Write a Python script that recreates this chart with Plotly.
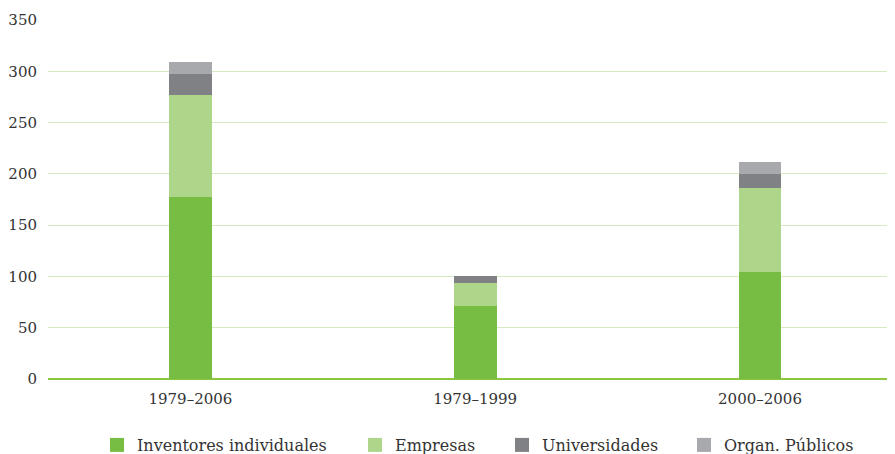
import plotly.graph_objects as go

categories = ["1979–2006", "1979–1999", "2000–2006"]
inventores = [177, 71, 104]
empresas = [100, 23, 82]
universidades = [20, 6, 14]
organ_publicos = [12, 0, 12]
y_ticks = [0, 50, 100, 150, 200, 250, 300, 350]

series_names = ["Inventores individuales", "Empresas", "Universidades", "Organ. Públicos"]
series_values = [inventores, empresas, universidades, organ_publicos]
series_colors = ["#77bc43", "#aed68b", "#808184", "#a7a9ac"]
legend_ids = ["legend", "legend2", "legend3", "legend4"]
legend_px = [110, 368, 515, 697]  # left pixel of each legend swatch (page coords)

OFF = 8  # page body margin
W, H = 895 - OFF, 454 - OFF
font = dict(family="DejaVu Serif, serif", size=15, color="#333333")
legend_font = dict(family="DejaVu Serif, serif", size=16, color="#333333")

fig = go.Figure()
for name, vals, color, lid in zip(series_names, series_values, series_colors, legend_ids):
    fig.add_trace(go.Bar(x=categories, y=vals, name=name, marker_color=color,
                         marker_line_width=0, width=0.15, showlegend=False))
    fig.add_trace(go.Scatter(x=[None], y=[None], mode="markers", name=name,
                             marker=dict(symbol="square", size=14, color=color),
                             legend=lid, showlegend=True, hoverinfo="skip"))

layout_legends = {}
for lid, px in zip(legend_ids, legend_px):
    layout_legends[lid] = dict(orientation="h", xref="container", yref="container",
                               x=(px - OFF - 13) / W, xanchor="left",
                               y=(454 - 445) / H, yanchor="middle",
                               font=legend_font, itemclick=False, itemdoubleclick=False,
                               bgcolor="rgba(0,0,0,0)", borderwidth=0)

fig.update_layout(
    barmode="stack",
    width=W, height=H,
    margin=dict(l=40, r=0, t=12, b=75, autoexpand=False),
    plot_bgcolor="white", paper_bgcolor="white",
    font=font,
    showlegend=True,
    xaxis=dict(range=[-0.5, 2.474], showgrid=False, showline=False, ticks="",
               ticklabelstandoff=9, tickfont=font, automargin=False, fixedrange=True),
    yaxis=dict(range=[0, 350], tickvals=y_ticks, showgrid=True, gridcolor="#d6eac2",
               gridwidth=1, zeroline=True, zerolinecolor="#8dc63f", zerolinewidth=2,
               showline=False, ticks="", ticklabelstandoff=10, tickfont=font,
               automargin=False, fixedrange=True),
    **layout_legends,
)
fig.write_html("out.html")
